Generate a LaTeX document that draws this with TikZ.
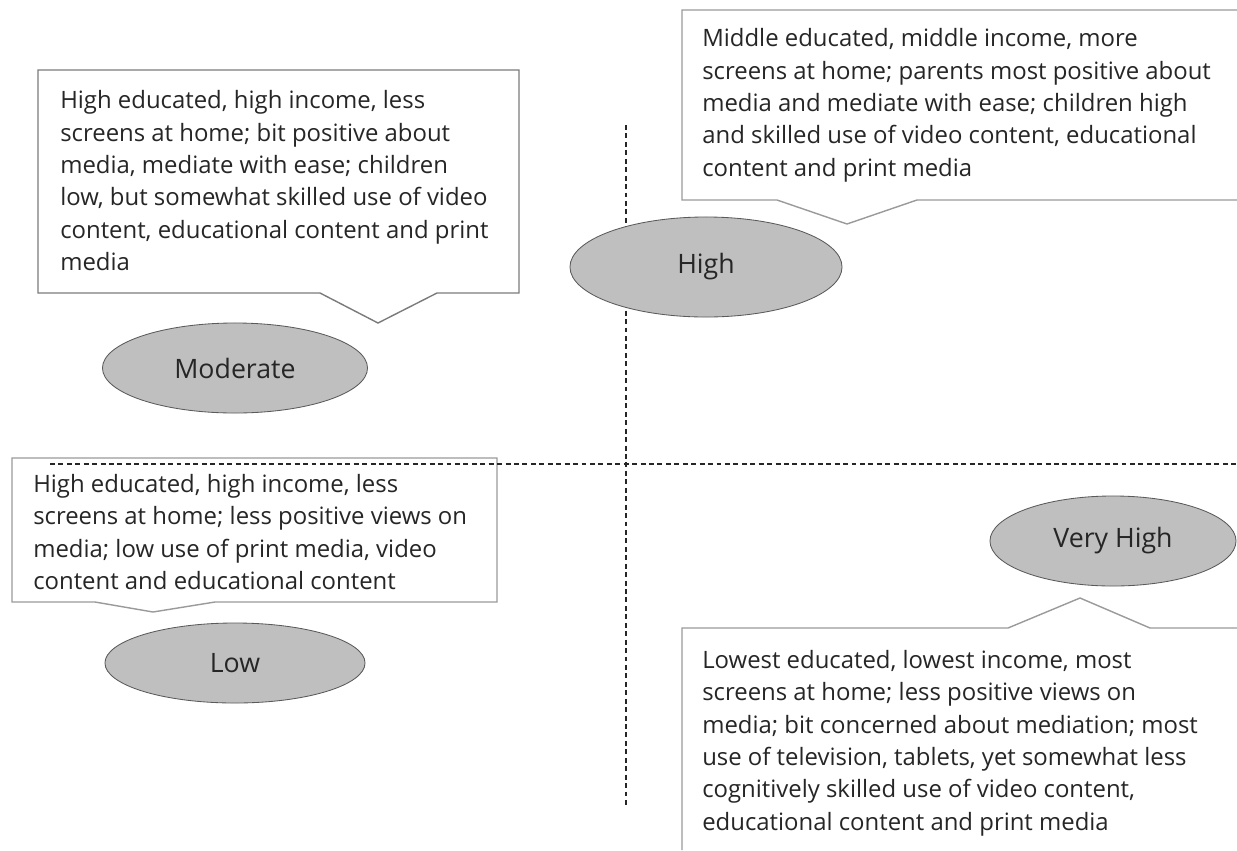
\documentclass[tikz,border=0pt]{standalone}
\usepackage{fontspec}
\setmainfont{Open Sans}
\usetikzlibrary{shapes.geometric}
\definecolor{boxgray}{HTML}{9A9A9A}
\definecolor{ovalfill}{HTML}{BFBFBF}
\definecolor{ovalline}{HTML}{5A5A5A}
\definecolor{inkgray}{HTML}{262626}
\begin{document}
\begin{tikzpicture}[x=0.025cm, y=-0.025cm,
	calloutline/.style={draw=boxgray, line width=1pt, fill=white, line join=miter},
	calloutnote/.style={anchor=north west, inner sep=0pt, align=left, text=inkgray, font=\fontsize{17}{23}\selectfont},
	level/.style={ellipse, fill=ovalfill, draw=ovalline, line width=0.6pt, inner sep=0pt, text=inkgray, font=\fontsize{19}{22}\selectfont},
	axisline/.style={draw=black!85, line width=0.8pt, dash pattern=on 3.5pt off 2.5pt}]
	\useasboundingbox (0,0) rectangle (1237,850);

	\draw[axisline] (626,125) -- (626,805);

	\draw[calloutline, draw=boxgray!80!black] (38,70) -- (519,70) -- (519,293) -- (437,293) -- (378,323) -- (320,293) -- (38,293) -- cycle;
	\node[calloutnote](moderateNote) at (60,90.5){High educated, high income, less\\screens at home; bit positive about\\media, mediate with ease; children\\low, but somewhat skilled use of video\\content, educational content and print\\media};

	\draw[calloutline] (1237,10) -- (682,10) -- (682,200) -- (777,200) -- (847,224) -- (917,200) -- (1237,200);
	\node[calloutnote](highNote) at (702,28.5){Middle educated, middle income, more\\screens at home; parents most positive about\\media and mediate with ease; children high\\and skilled use of video content, educational\\content and print media};

	\draw[calloutline] (12,458) -- (497,458) -- (497,602) -- (215,602) -- (153,612) -- (95,602) -- (12,602) -- cycle;
	\node[calloutnote](lowNote) at (33,474){High educated, high income, less\\screens at home; less positive views on\\media; low use of print media, video\\content and educational content};

	\draw[calloutline] (1237,628) -- (1150,628) -- (1080,598) -- (1008,628) -- (682,628) -- (682,850);
	\node[calloutnote](veryHighNote) at (702,650){Lowest educated, lowest income, most\\screens at home; less positive views on\\media; bit concerned about mediation; most\\use of television, tablets, yet somewhat less\\cognitively skilled use of video content,\\educational content and print media};

	\draw[axisline] (50,464) -- (1237,464);

	\node[level, minimum width=6.625cm, minimum height=2.25cm](moderate) at (235,368){Moderate};
	\node[level, minimum width=6.8cm, minimum height=2.5cm](high) at (706,267){High};
	\node[level, minimum width=6.5cm, minimum height=2cm](low) at (235,663){Low};
	\node[level, minimum width=6.15cm, minimum height=2.25cm](veryHigh) at (1113,541){Very High};
\end{tikzpicture}
\end{document}
